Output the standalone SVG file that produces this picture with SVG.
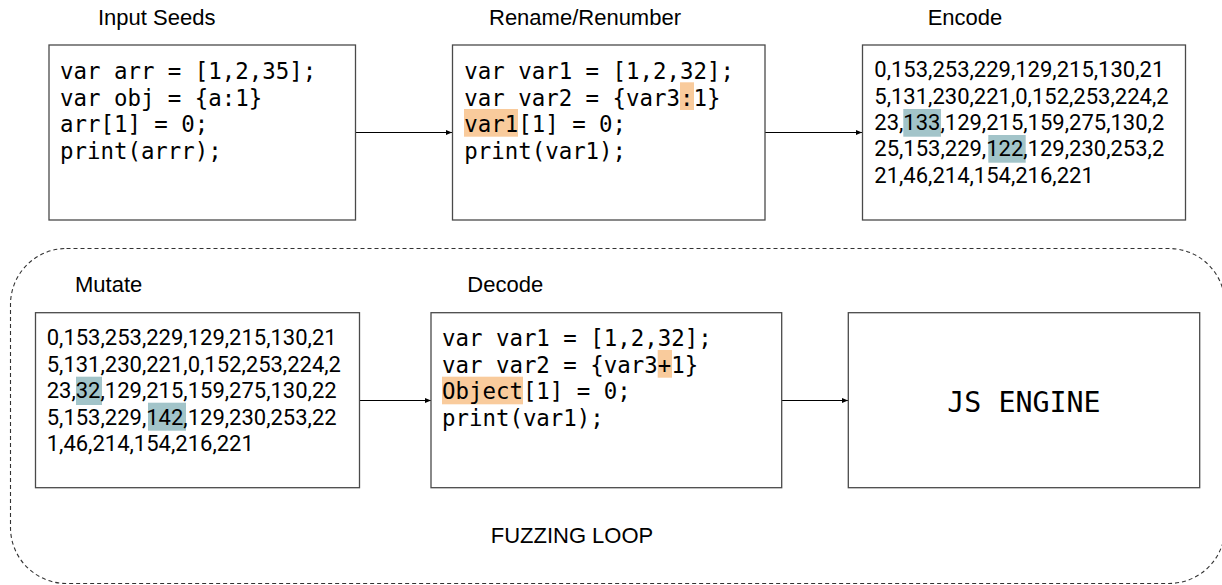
<svg xmlns="http://www.w3.org/2000/svg" width="1222" height="585" viewBox="0 0 1222 585">
<defs>
<style>
.box{fill:#fff;stroke:#4a4a4a;stroke-width:1.3}
.title{font-family:"Liberation Sans",Arial,sans-serif;font-size:22px;fill:#000}
.code{font-family:"DejaVu Sans Mono",monospace;font-size:22.4px;fill:#000}
.nums{font-family:Roboto,"Liberation Sans",sans-serif;font-size:22px;fill:#000}
.eng{font-family:"DejaVu Sans Mono",monospace;font-size:28.3px;fill:#000}
.hlo{fill:#f9cb9c}
.hlt{fill:#a2c4c9}
.conn{stroke:#000;stroke-width:1.2;fill:none;marker-end:url(#arr)}
.loop{fill:none;stroke:#333;stroke-width:1.1;stroke-dasharray:4 3}
</style>
<marker id="arr" markerWidth="6" markerHeight="5" refX="6" refY="2.5" orient="auto" markerUnits="userSpaceOnUse">
<path d="M0,0 L6,2.5 L0,5 Z" fill="#000"/>
</marker>
</defs>
<rect width="1222" height="585" fill="#fff"/>
<g id="fuzzing-loop">
<rect class="loop" x="10.5" y="248.5" width="1214.5" height="335" rx="56" ry="56"/>
<text class="title" x="490.7" y="542.7">FUZZING LOOP</text>
</g>
<g id="connectors">
<line class="conn" x1="355.5" y1="132.5" x2="452" y2="132.5"/>
<line class="conn" x1="765" y1="132.5" x2="862" y2="132.5"/>
<line class="conn" x1="359.5" y1="400.5" x2="431" y2="400.5"/>
<line class="conn" x1="781.5" y1="400.5" x2="848" y2="400.5"/>
</g>
<g id="input-seeds">
<text class="title" x="98" y="25">Input Seeds</text>
<rect class="box" x="49" y="45" width="306.5" height="175"/>
<text class="code" x="60" y="79">var arr = [1,2,35];</text>
<text class="code" x="60" y="105.7">var obj = {a:1}</text>
<text class="code" x="60" y="132.4">arr[1] = 0;</text>
<text class="code" x="60" y="159.1">print(arrr);</text>
</g>
<g id="rename">
<text class="title" x="489" y="25">Rename/Renumber</text>
<rect class="box" x="452.5" y="45" width="312.5" height="175"/>
<rect class="hlo" x="680" y="82.3" width="14" height="27.7"/>
<rect class="hlo" x="464" y="109" width="54" height="27.7"/>
<text class="code" x="464.3" y="79">var var1 = [1,2,32];</text>
<text class="code" x="464.3" y="105.7">var var2 = {var3:1}</text>
<text class="code" x="464.3" y="132.4">var1[1] = 0;</text>
<text class="code" x="464.3" y="159.1">print(var1);</text>
</g>
<g id="encode">
<text class="title" x="927.7" y="25">Encode</text>
<rect class="box" x="862.5" y="45" width="323" height="175"/>
<rect class="hlt" x="903.3" y="109" width="37.7" height="27.7"/>
<rect class="hlt" x="988.3" y="135" width="37.4" height="27.7"/>
<text class="nums" x="874.3" y="77.3">0,153,253,229,129,215,130,21</text>
<text class="nums" x="874.3" y="103.6">5,131,230,221,0,152,253,224,2</text>
<text class="nums" x="874.3" y="129.9">23,133,129,215,159,275,130,2</text>
<text class="nums" x="874.3" y="156.2">25,153,229,122,129,230,253,2</text>
<text class="nums" x="874.3" y="182.5">21,46,214,154,216,221</text>
</g>
<g id="mutate">
<text class="title" x="75" y="291.7">Mutate</text>
<rect class="box" x="35.5" y="312.7" width="324" height="175"/>
<rect class="hlt" x="76" y="376.7" width="26" height="28.3"/>
<rect class="hlt" x="148" y="402.7" width="38" height="28"/>
<text class="nums" x="46.7" y="345">0,153,253,229,129,215,130,21</text>
<text class="nums" x="46.7" y="371.5">5,131,230,221,0,152,253,224,2</text>
<text class="nums" x="46.7" y="398">23,32,129,215,159,275,130,22</text>
<text class="nums" x="46.7" y="424.5">5,153,229,142,129,230,253,22</text>
<text class="nums" x="46.7" y="451">1,46,214,154,216,221</text>
</g>
<g id="decode">
<text class="title" x="467.3" y="291.7">Decode</text>
<rect class="box" x="431" y="312.7" width="350.7" height="175"/>
<rect class="hlo" x="657.7" y="350" width="14.3" height="27.7"/>
<rect class="hlo" x="442" y="376.7" width="81" height="27.6"/>
<text class="code" x="442" y="346">var var1 = [1,2,32];</text>
<text class="code" x="442" y="372.7">var var2 = {var3+1}</text>
<text class="code" x="442" y="399.4">Object[1] = 0;</text>
<text class="code" x="442" y="426.1">print(var1);</text>
</g>
<g id="js-engine">
<rect class="box" x="848.3" y="312.7" width="351.4" height="175"/>
<text class="eng" x="1024" y="411.7" text-anchor="middle">JS ENGINE</text>
</g>
</svg>
